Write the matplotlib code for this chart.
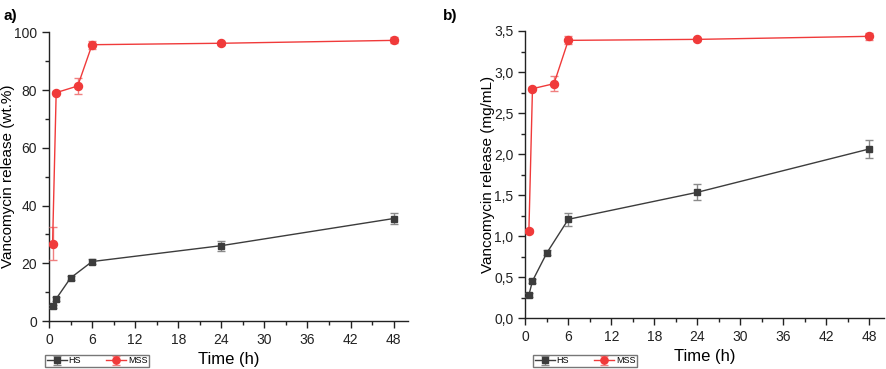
import matplotlib
matplotlib.use("Agg")
import matplotlib.pyplot as plt
from matplotlib.ticker import MultipleLocator, FuncFormatter

plt.rcParams['font.family'] = ['Liberation Sans', 'DejaVu Sans']

# sampling times (h)
t_hs = [0.5, 1, 3, 6, 24, 48]
t_mss = [0.5, 1, 4, 6, 24, 48]

# panel a) release in wt.%
hs_wt = [5.1, 7.7, 14.9, 20.6, 26.1, 35.5]
hs_wt_err = [0.5, 0.6, 0.6, 1.0, 1.7, 1.9]
mss_wt = [26.8, 79.1, 81.4, 95.7, 96.2, 97.2]
mss_wt_err = [5.7, 0.6, 2.7, 1.4, 0.5, 1.0]

# panel b) release in mg/mL
hs_mg = [0.284, 0.455, 0.796, 1.206, 1.535, 2.063]
hs_mg_err = [0.02, 0.02, 0.03, 0.08, 0.095, 0.11]
mss_mg = [1.064, 2.797, 2.858, 3.386, 3.398, 3.435]
mss_mg_err = [0.02, 0.02, 0.09, 0.05, 0.02, 0.04]

hs_color = '#3c3c3c'
mss_color = '#f03a3a'

fig = plt.figure(figsize=(8.86, 3.69), dpi=100)
ax1 = fig.add_axes([0.0553, 0.130, 0.4052, 0.7825])
ax2 = fig.add_axes([0.5929, 0.1374, 0.4045, 0.7786])


def draw_panel(ax, hs, hs_err, mss, mss_err, ymax, ystep, ylabel, comma, ylab_x):
    ax.errorbar(t_hs, hs, yerr=hs_err, color=hs_color, ecolor='#8a8a8a',
                marker='s', markersize=4.8, lw=1.0, elinewidth=1, capsize=3,
                label='HS', zorder=3)
    ax.errorbar(t_mss, mss, yerr=mss_err, color=mss_color, ecolor='#f08080',
                marker='o', markersize=5.8, lw=1.0, elinewidth=1, capsize=3,
                label='MSS', zorder=4)
    ax.set_xlim(0, 50)
    ax.set_ylim(0, ymax)
    ax.xaxis.set_major_locator(MultipleLocator(6))
    ax.xaxis.set_minor_locator(MultipleLocator(3))
    ax.yaxis.set_major_locator(MultipleLocator(ystep))
    ax.yaxis.set_minor_locator(MultipleLocator(ystep / 2))
    if comma:
        ax.yaxis.set_major_formatter(FuncFormatter(lambda v, p: f'{v:.1f}'.replace('.', ',')))
    for s in ['top', 'right']:
        ax.spines[s].set_visible(False)
    for s in ['left', 'bottom']:
        ax.spines[s].set_linewidth(1.0)
        ax.spines[s].set_color('#222222')
    ax.tick_params(which='major', direction='out', length=5, width=1,
                   labelsize=10, colors='#222222')
    ax.tick_params(which='minor', direction='out', length=3, width=1,
                   colors='#222222')
    ax.set_ylabel(ylabel, fontsize=11)
    ax.yaxis.set_label_coords(ylab_x, 0.5)
    ax.yaxis.label.set_va('center')
    ax.set_xlabel('Time (h)', fontsize=12)
    ax.xaxis.set_label_coords(0.5, -0.132)
    ax.xaxis.label.set_va('center')


draw_panel(ax1, hs_wt, hs_wt_err, mss_wt, mss_wt_err, 100, 20,
           'Vancomycin release (wt.%)', False, -0.114)
draw_panel(ax2, hs_mg, hs_mg_err, mss_mg, mss_mg_err, 3.5, 0.5,
           'Vancomycin release (mg/mL)', True, -0.104)

for ax, x0 in [(ax1, 45 / 886), (ax2, 533 / 886)]:
    h, l = ax.get_legend_handles_labels()
    leg = fig.legend(h, l, loc='lower left', bbox_to_anchor=(x0, 0.005),
                     ncol=2, fontsize=6.5, frameon=True, fancybox=False,
                     edgecolor='#555555', handlelength=2.2, columnspacing=2.8,
                     borderpad=0.2, handletextpad=0.2, markerscale=0.9,
                     borderaxespad=0)
    leg.get_frame().set_linewidth(1.0)

fig.text(0.004, 0.975, 'a)', fontsize=11, fontweight='bold', va='top')
fig.text(0.5, 0.975, 'b)', fontsize=11, fontweight='bold', va='top')

fig.savefig('out.png', dpi=100)
